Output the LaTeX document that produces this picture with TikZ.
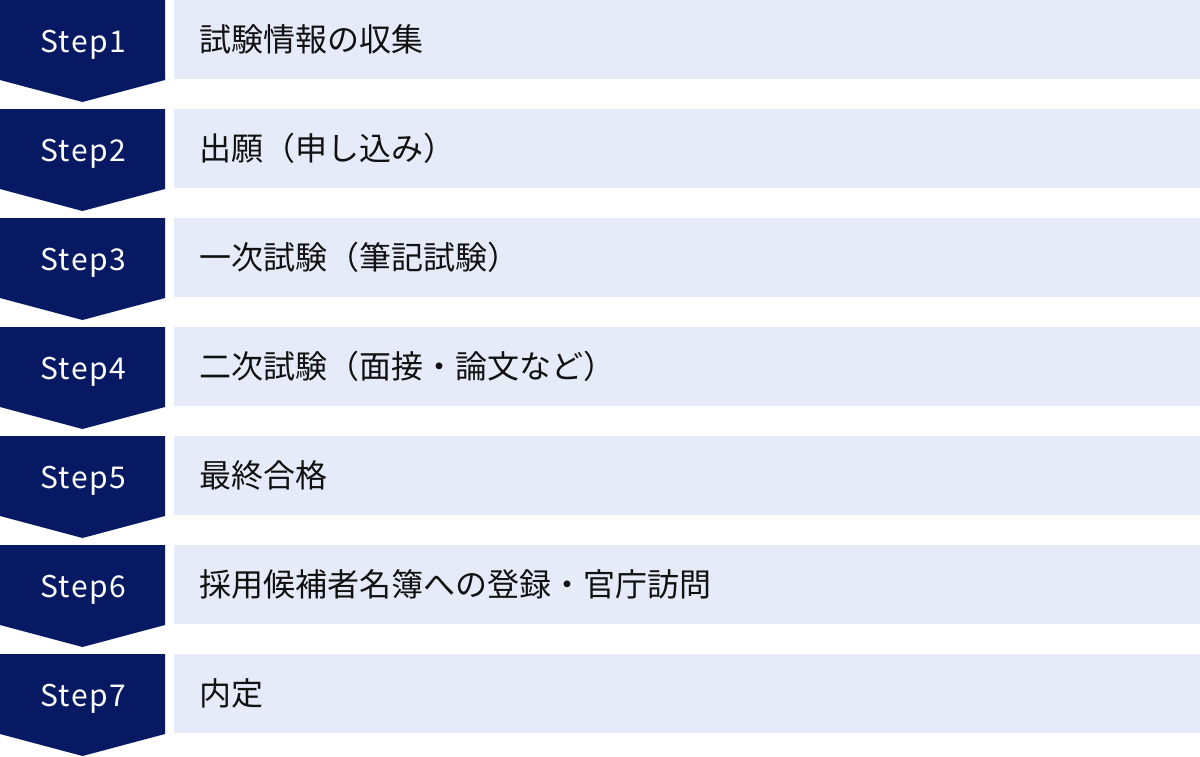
\documentclass[tikz,border=0pt]{standalone}
\usepackage{fontspec}
\setmainfont{Noto Sans}
\newfontfamily\jpfont{Noto Sans CJK JP}
\newfontfamily\stepfont[LetterSpace=5]{Noto Sans CJK JP}
\definecolor{navy}{HTML}{061962}
\definecolor{paleblue}{HTML}{E5EBF8}
\definecolor{txt}{HTML}{111111}
\begin{document}
\begin{tikzpicture}[x=1pt,y=1pt,
  chevron/.style={fill=navy},
  bar/.style={fill=paleblue},
  steplabel/.style={text=white,font=\stepfont\fontsize{30}{36}\selectfont,inner sep=0pt,anchor=base},
  itemlabel/.style={text=txt,font=\jpfont\fontsize{32}{38}\selectfont,inner sep=0pt,anchor=west}]
\useasboundingbox (0,0) rectangle (1200,-756);
\foreach \i/\t in {1/試験情報の収集,2/出願（申し込み）,3/一次試験（筆記試験）,4/二次試験（面接・論文など）,5/最終合格,6/採用候補者名簿への登録・官庁訪問,7/内定}{
  \pgfmathsetmacro{\top}{-109*(\i-1)}
  \fill[chevron] (0,\top) -- (165,\top) -- (165,\top-80) -- (82.5,\top-102) -- (0,\top-80) -- cycle;
  \fill[bar] (174,\top) rectangle (1200,\top-79);
  \node[steplabel] (s\i) at (83,\top-52) {Step\i};
  \node[itemlabel] (t\i) at (199,\top-39.5) {\t};
}
\end{tikzpicture}
\end{document}
